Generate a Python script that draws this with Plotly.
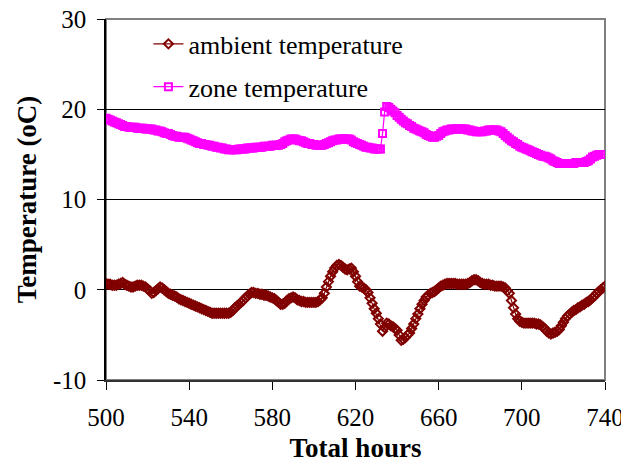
import plotly.graph_objects as go

hours = list(range(500, 741))

ambient_temperature = [
    0.7, 0.6, 0.6, 0.5, 0.5, 0.5, 0.6, 0.7, 0.8, 0.6,
    0.5, 0.4, 0.3, 0.3, 0.4, 0.5, 0.5, 0.5, 0.4, 0.3,
    0.1, -0.1, -0.4, -0.3, -0.1, 0.1, 0.3, 0.2, 0.0, -0.2,
    -0.4, -0.5, -0.6, -0.7, -0.8, -1.0, -1.1, -1.2, -1.3, -1.4,
    -1.5, -1.6, -1.7, -1.8, -1.9, -2.0, -2.1, -2.2, -2.3, -2.4,
    -2.5, -2.6, -2.6, -2.6, -2.6, -2.6, -2.6, -2.6, -2.6, -2.6,
    -2.5, -2.3, -2.0, -1.8, -1.6, -1.4, -1.2, -0.9, -0.7, -0.5,
    -0.3, -0.3, -0.4, -0.4, -0.5, -0.5, -0.6, -0.6, -0.7, -0.8,
    -0.9, -1.0, -1.2, -1.4, -1.6, -1.6, -1.5, -1.2, -1.0, -0.9,
    -0.8, -0.9, -1.1, -1.2, -1.3, -1.3, -1.4, -1.4, -1.4, -1.4,
    -1.4, -1.4, -1.3, -1.1, -0.9, -0.4, 0.3, 0.9, 1.5, 2.0,
    2.4, 2.7, 2.8, 2.7, 2.5, 2.3, 2.2, 2.3, 2.4, 2.0,
    1.5, 0.9, 0.4, 0.3, 0.2, 0.0, -0.3, -0.9, -1.5, -2.1,
    -2.6, -3.2, -3.8, -4.6, -4.2, -3.7, -3.8, -4.0, -4.1, -4.3,
    -4.5, -5.0, -5.6, -5.5, -5.3, -5.0, -4.8, -4.3, -3.8, -3.2,
    -2.7, -2.1, -1.6, -1.2, -0.8, -0.6, -0.4, -0.3, -0.2, 0.0,
    0.2, 0.4, 0.5, 0.6, 0.7, 0.7, 0.7, 0.7, 0.7, 0.6,
    0.6, 0.6, 0.6, 0.6, 0.7, 0.8, 1.0, 1.1, 1.1, 1.0,
    0.8, 0.7, 0.6, 0.6, 0.6, 0.5, 0.5, 0.4, 0.4, 0.4,
    0.4, 0.3, 0.2, -0.1, -0.4, -1.2, -2.0, -2.7, -3.2, -3.5,
    -3.6, -3.7, -3.7, -3.7, -3.7, -3.7, -3.7, -3.8, -3.8, -3.9,
    -4.1, -4.3, -4.6, -4.8, -4.9, -4.8, -4.7, -4.6, -4.4, -4.0,
    -3.6, -3.2, -2.9, -2.7, -2.5, -2.3, -2.2, -2.0, -1.9, -1.7,
    -1.6, -1.4, -1.3, -1.1, -0.9, -0.7, -0.4, -0.2, 0.0, 0.2,
    0.4,
]

zone_temperature = [
    19.0, 18.9, 18.8, 18.7, 18.6, 18.5, 18.4, 18.3, 18.2, 18.1,
    18.1, 18.0, 18.0, 18.0, 18.0, 17.9, 17.9, 17.9, 17.9, 17.8,
    17.8, 17.8, 17.8, 17.7, 17.7, 17.6, 17.6, 17.5, 17.4, 17.3,
    17.3, 17.2, 17.1, 17.0, 17.0, 16.9, 16.9, 16.9, 16.9, 16.8,
    16.7, 16.6, 16.5, 16.4, 16.3, 16.2, 16.2, 16.1, 16.1, 16.0,
    16.0, 15.9, 15.9, 15.8, 15.8, 15.7, 15.7, 15.6, 15.6, 15.5,
    15.5, 15.5, 15.5, 15.5, 15.6, 15.6, 15.6, 15.6, 15.7, 15.7,
    15.7, 15.7, 15.8, 15.8, 15.8, 15.8, 15.9, 15.9, 15.9, 15.9,
    16.0, 16.0, 16.0, 16.0, 16.1, 16.2, 16.4, 16.5, 16.6, 16.7,
    16.7, 16.7, 16.6, 16.5, 16.5, 16.4, 16.3, 16.2, 16.2, 16.1,
    16.1, 16.0, 16.0, 16.0, 16.0, 16.1, 16.2, 16.3, 16.4, 16.5,
    16.6, 16.6, 16.7, 16.7, 16.7, 16.7, 16.7, 16.7, 16.6, 16.4,
    16.3, 16.2, 16.1, 16.0, 15.9, 15.8, 15.8, 15.7, 15.7, 15.6,
    15.6, 15.6, 15.6, 17.3, 19.7, 20.3, 20.2, 20.0, 19.8, 19.6,
    19.3, 19.1, 18.9, 18.7, 18.5, 18.4, 18.2, 18.1, 17.9, 17.8,
    17.7, 17.6, 17.5, 17.4, 17.2, 17.1, 17.0, 16.9, 16.9, 17.0,
    17.1, 17.3, 17.5, 17.6, 17.7, 17.7, 17.8, 17.8, 17.8, 17.8,
    17.8, 17.8, 17.8, 17.8, 17.7, 17.7, 17.6, 17.6, 17.5, 17.5,
    17.5, 17.5, 17.6, 17.6, 17.7, 17.7, 17.7, 17.7, 17.7, 17.6,
    17.5, 17.3, 17.1, 16.9, 16.7, 16.5, 16.4, 16.2, 16.1, 15.9,
    15.8, 15.7, 15.6, 15.5, 15.4, 15.3, 15.2, 15.1, 15.0, 14.9,
    14.8, 14.8, 14.7, 14.6, 14.5, 14.3, 14.2, 14.1, 14.0, 14.0,
    14.0, 14.0, 14.0, 14.0, 14.0, 14.0, 14.1, 14.1, 14.1, 14.1,
    14.1, 14.2, 14.3, 14.5, 14.7, 14.8, 14.9, 15.0, 15.0, 15.0,
    15.0,
]

x_ticks = [500, 540, 580, 620, 660, 700, 740]
y_ticks = [-10, 0, 10, 20, 30]
y_tick_labels = ["-10", "0", "10", "20", "30"]

FONT = "Liberation Serif, Times New Roman, serif"

fig = go.Figure()
fig.add_trace(go.Scatter(
    x=hours, y=ambient_temperature, name="ambient temperature",
    mode="lines+markers", legendgroup="a",
    line=dict(color="#800000", width=1.2),
    marker=dict(symbol="diamond-open", size=7, color="#800000", line=dict(width=2, color="#800000")),
))
fig.add_trace(go.Scatter(
    x=hours, y=zone_temperature, name="zone temperature",
    mode="lines+markers", legendgroup="z",
    line=dict(color="#FF00FF", width=1.2),
    marker=dict(symbol="square-open", size=7, color="#FF00FF", line=dict(width=2, color="#FF00FF")),
))

# The page body has an 8px margin, so the figure is sized/offset to compensate.
fig.update_layout(
    width=621, height=460,
    margin=dict(l=98, r=24, t=11, b=88, autoexpand=False),
    paper_bgcolor="white", plot_bgcolor="white",
    font=dict(family=FONT, size=25, color="black"),
    showlegend=True,
    legend=dict(x=0.085, y=0.996, xanchor="left", yanchor="top",
                bgcolor="rgba(0,0,0,0)", traceorder="grouped", tracegroupgap=6,
                font=dict(family=FONT, size=26, color="black")),
    xaxis=dict(range=[500, 740], tickvals=x_ticks, showgrid=False, zeroline=False, automargin=False,
               showline=True, linecolor="#333333", linewidth=1.5,
               ticks="outside", ticklen=8, tickcolor="black", ticklabelstandoff=6,
               ticklabeloverflow="allow",
               tickfont=dict(family=FONT, size=25),
               title=dict(text="<b>Total hours</b>", font=dict(family=FONT, size=27), standoff=8)),
    yaxis=dict(range=[-10, 30], tickvals=y_ticks, ticktext=y_tick_labels,
               showgrid=True, gridcolor="black", gridwidth=1,
               zeroline=True, zerolinecolor="black", zerolinewidth=1, automargin=False,
               showline=True, linecolor="black", linewidth=1.5,
               ticks="outside", ticklen=7, tickcolor="black", ticklabelstandoff=6,
               ticklabeloverflow="allow",
               tickfont=dict(family=FONT, size=25),
               title=dict(text="<b>Temperature (oC)</b>", font=dict(family=FONT, size=27), standoff=8)),
    shapes=[dict(type="rect", xref="paper", yref="paper", x0=0, x1=1, y0=0, y1=1,
                 line=dict(color="#808080", width=2), layer="below")],
)

fig.write_html("out.html")
